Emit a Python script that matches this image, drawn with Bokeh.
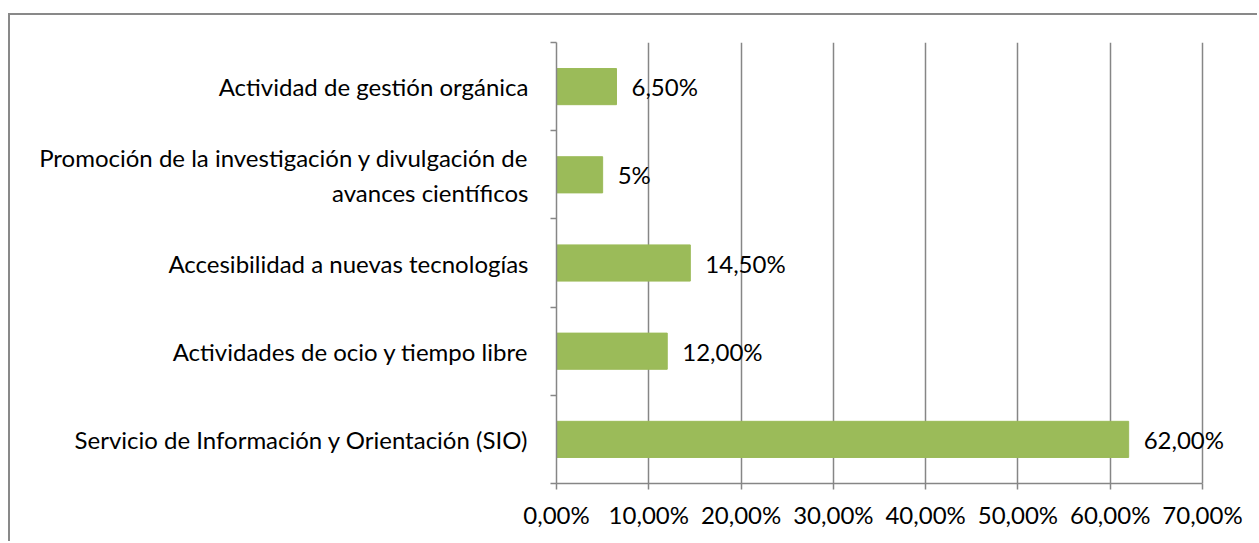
from bokeh.plotting import figure
from bokeh.models import FixedTicker, ColumnDataSource, Range1d, LabelSet
from bokeh.embed import file_html
from bokeh.resources import INLINE
from bokeh.core.properties import value

categories = [
    "Servicio de Información y Orientación (SIO)",
    "Actividades de ocio y tiempo libre",
    "Accesibilidad a nuevas tecnologías",
    "Promoción de la investigación y divulgación de\navances científicos",
    "Actividad de gestión orgánica",
]
values = [62.0, 12.0, 14.5, 5.0, 6.5]
value_labels = ["62,00%", "12,00%", "14,50%", "5%", "6,50%"]
x_ticks = [0, 10, 20, 30, 40, 50, 60, 70]
x_tick_labels = ["0,00%", "10,00%", "20,00%", "30,00%", "40,00%", "50,00%", "60,00%", "70,00%"]

FONT = "Lato"
FS = "24px"
GRAY = "#868686"

# axis spans 0..70 over 646 px; frame extended to the right to leave room for labels
AX_MAX = 70
AX_PX = 646
FRAME_PX = 700
X_END = AX_MAX * FRAME_PX / AX_PX

W, H = 1249, 528
LEFT, TOP, FRAME_H = 546, 27, 441

ypos = [i + 0.5 for i in range(len(categories))]
src = ColumnDataSource(dict(y=ypos, v=values, lab=value_labels))

p = figure(width=W, height=H, output_backend="svg", toolbar_location=None,
           x_range=Range1d(0, X_END), y_range=Range1d(0, len(categories)),
           min_border_left=LEFT, min_border_right=W - LEFT - FRAME_PX,
           min_border_top=TOP, min_border_bottom=H - TOP - FRAME_H)
p.styles = {"margin-top": "13px", "margin-left": "8px",
            "border-left": "2px solid #898989", "border-top": "2px solid #898989"}
p.outline_line_color = None
p.background_fill_color = "white"

p.hbar(y="y", right="v", left=0, height=0.41, source=src, color="#9BBB59")
labels = LabelSet(x="v", y="y", text="lab", source=src, x_offset=15, text_baseline="middle",
                  text_font=value(FONT), text_font_size=value(FS), text_color="black")
p.add_layout(labels)

# x axis
p.xaxis.ticker = FixedTicker(ticks=x_ticks)
p.xaxis.bounds = (0, AX_MAX)
p.xaxis.major_label_overrides = {t: l for t, l in zip(x_ticks, x_tick_labels)}
p.xaxis.axis_line_color = GRAY
p.xaxis.axis_line_width = 1.5
p.xaxis.major_tick_line_color = GRAY
p.xaxis.major_tick_line_width = 1.5
p.xaxis.major_tick_out = 6
p.xaxis.major_tick_in = 0
p.xaxis.minor_tick_line_color = None
p.xaxis.major_label_text_font = FONT
p.xaxis.major_label_text_font_size = FS
p.xaxis.major_label_text_color = "black"
p.xaxis.major_label_standoff = 10

# y axis
p.yaxis.ticker = FixedTicker(ticks=ypos, minor_ticks=list(range(len(categories) + 1)))
p.yaxis.major_label_overrides = {y: c for y, c in zip(ypos, categories)}
p.yaxis.axis_line_color = GRAY
p.yaxis.axis_line_width = 1.5
p.yaxis.major_tick_line_color = None
p.yaxis.minor_tick_line_color = GRAY
p.yaxis.minor_tick_line_width = 1.5
p.yaxis.minor_tick_out = 6
p.yaxis.minor_tick_in = 0
p.yaxis.major_label_text_font = FONT
p.yaxis.major_label_text_font_size = FS
p.yaxis.major_label_text_color = "black"
p.yaxis.major_label_standoff = 22

p.xgrid.ticker = FixedTicker(ticks=x_ticks)
p.xgrid.bounds = (0, AX_MAX)
p.xgrid.grid_line_color = GRAY
p.xgrid.grid_line_width = 1.5
p.ygrid.grid_line_color = None

open("out.html", "w").write(file_html(p, INLINE))
